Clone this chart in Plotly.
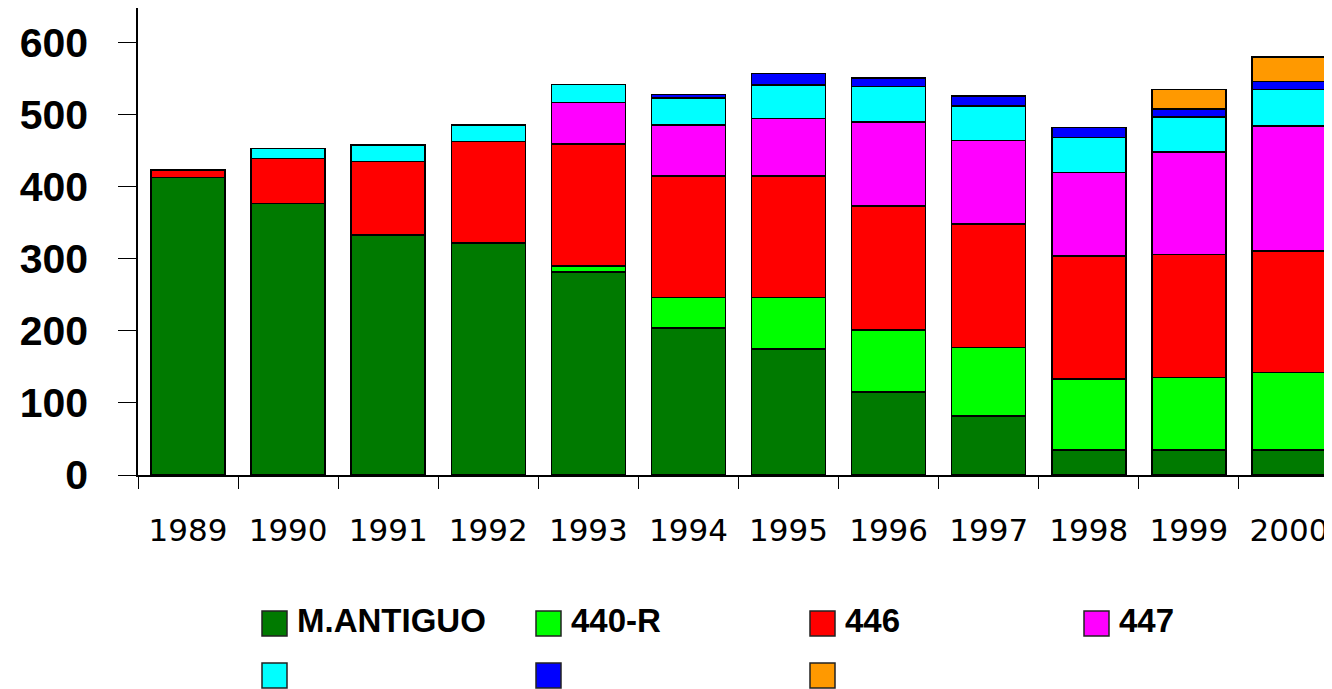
import plotly.graph_objects as go

years = ["1989", "1990", "1991", "1992", "1993", "1994", "1995", "1996", "1997", "1998", "1999", "2000"]

series_names = ["M.ANTIGUO", "440-R", "446", "447", "", "", ""]
series_colors = ["#007A00", "#00FF00", "#FF0000", "#FF00FF", "#00FFFF", "#0000FF", "#FF9900"]

m_antiguo = [413, 377, 333, 322, 282, 204, 175, 115, 82, 35, 35, 35]
s_440r = [None, None, None, None, 8, 42, 71, 86, 95, 98, 100, 107]
s_446 = [10, 62, 102, 141, 169, 169, 169, 172, 171, 171, 171, 169]
s_447 = [None, None, None, None, 58, 71, 80, 117, 116, 116, 142, 173]
s_cyan = [None, 14, 23, 23, 25, 37, 46, 49, 48, 48, 49, 51]
s_blue = [None, None, None, None, None, 5, 16, 12, 14, 14, 11, 11]
s_orange = [None, None, None, None, None, None, None, None, None, None, 27, 34]

series_values = [m_antiguo, s_440r, s_446, s_447, s_cyan, s_blue, s_orange]
y_ticks = [0, 100, 200, 300, 400, 500, 600]

# page body has an 8px margin; figure sized to fill the rest of the viewport
OFF = 8
W, H = 1324, 681
ML, MR, MT, MB = 130, 0, 0, 214

fig = go.Figure()
for name, color, vals in zip(series_names, series_colors, series_values):
    fig.add_trace(go.Bar(
        x=years, y=vals, name=name,
        marker=dict(color=color, line=dict(color="#000000", width=1.5)),
        showlegend=False,
    ))

fig.update_layout(
    width=W, height=H,
    margin=dict(l=ML, r=MR, t=MT, b=MB, pad=0),
    barmode="stack",
    bargap=0.26,
    plot_bgcolor="white",
    paper_bgcolor="white",
    showlegend=False,
)

fig.update_xaxes(
    type="category",
    range=[-0.5, 11.43],
    showline=True, linecolor="black", linewidth=1.5,
    ticks="outside", ticklen=12, tickwidth=1.2, tickcolor="black",
    tickson="boundaries",
    showgrid=False, zeroline=False,
    tickfont=dict(family="DejaVu Sans", size=31, color="black"),
    ticklabelstandoff=27,
)
fig.update_yaxes(
    range=[0, 648],
    tickvals=y_ticks, ticktext=[str(v) for v in y_ticks],
    showline=True, linecolor="black", linewidth=1.5,
    ticks="outside", ticklen=18, tickwidth=1.2, tickcolor="black",
    showgrid=False, zeroline=False,
    tickfont=dict(family="Liberation Sans, Arial", size=41, color="black", weight="bold"),
    ticklabelstandoff=22,
)

# Legend built from the series lists (4 columns, 2 rows)
plot_w = W - ML - MR
plot_h = H - MT - MB


def px_x(px):
    return (px - OFF - ML) / plot_w


def px_y(py):
    return (H - MB - (py - OFF)) / plot_h


col_left = [262, 536, 810, 1084]
row_top = [611, 663]
box = 25
for i, (name, color) in enumerate(zip(series_names, series_colors)):
    r, c = divmod(i, 4)
    x0 = col_left[c]
    y0 = row_top[r]
    fig.add_shape(
        type="rect", xref="paper", yref="paper",
        x0=px_x(x0), x1=px_x(x0 + box), y0=px_y(y0 + box), y1=px_y(y0),
        fillcolor=color, line=dict(color="#222222", width=1.5),
    )
    if name:
        fig.add_annotation(
            xref="paper", yref="paper",
            x=px_x(x0 + 33), y=px_y(y0 + box / 2 - 3),
            xanchor="left", yanchor="middle",
            text=name, showarrow=False,
            font=dict(family="Liberation Sans, Arial", size=33, color="black", weight="bold"),
        )

fig.write_html("out.html")
